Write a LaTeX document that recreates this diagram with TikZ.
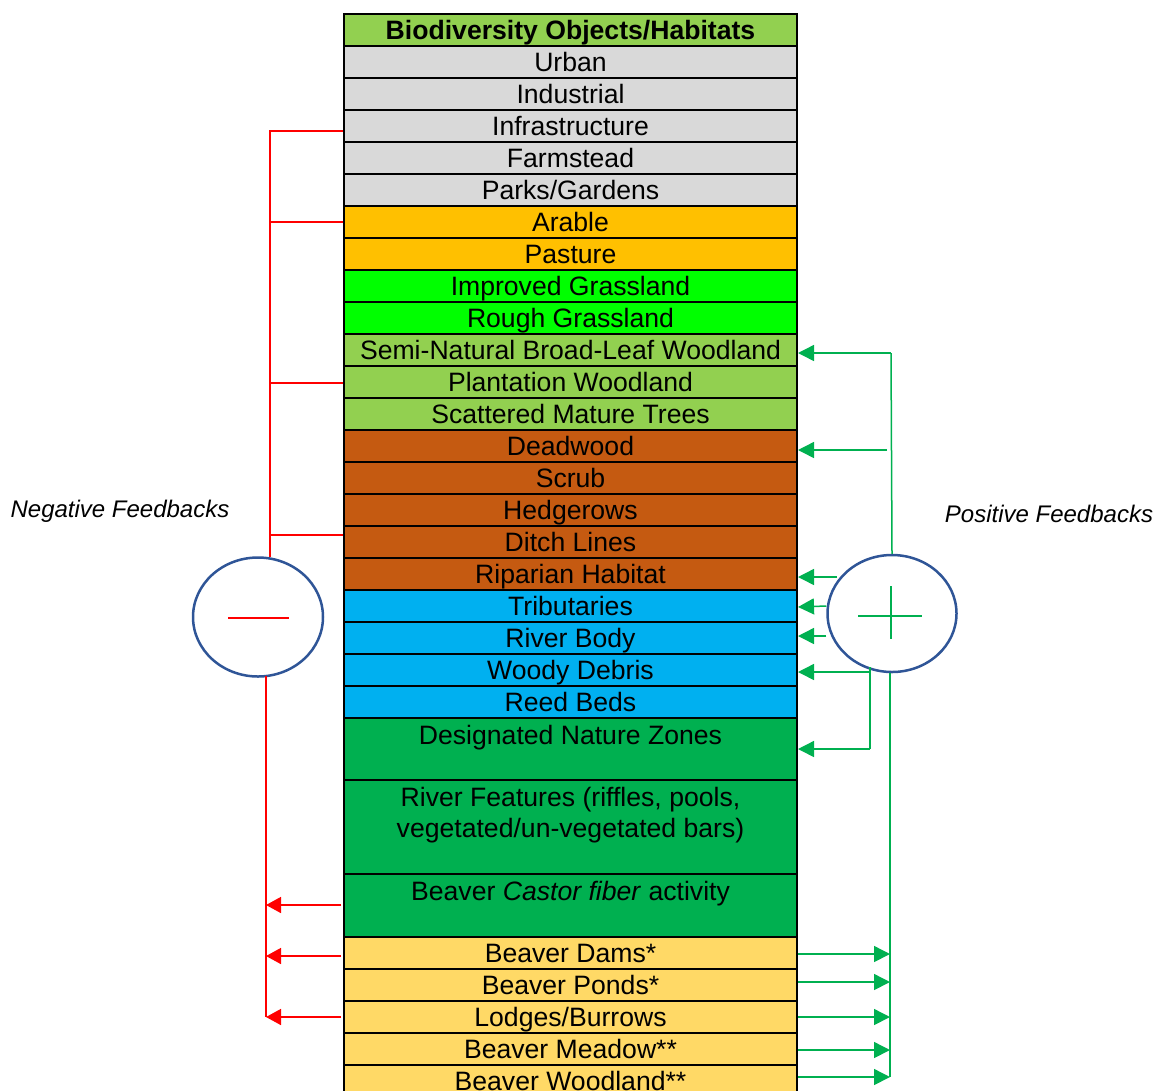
\documentclass[tikz,border=0pt]{standalone}
\usepackage{fontspec}
\setmainfont{Liberation Sans}
\usetikzlibrary{arrows.meta,shapes.geometric}
\definecolor{cHdr}{HTML}{92D050}
\definecolor{cGrey}{HTML}{D9D9D9}
\definecolor{cOrange}{HTML}{FFC000}
\definecolor{cLime}{HTML}{00FF00}
\definecolor{cLeaf}{HTML}{92D050}
\definecolor{cBrown}{HTML}{C55A11}
\definecolor{cBlue}{HTML}{00B0F0}
\definecolor{cDGreen}{HTML}{00B050}
\definecolor{cYellow}{HTML}{FFD966}
\definecolor{cArrowG}{HTML}{00B050}
\definecolor{cRed}{HTML}{FF0000}
\definecolor{cCircle}{HTML}{2F5597}
\newcommand{\rowfont}{\fontsize{26.6}{31}\selectfont}
\begin{document}
\begin{tikzpicture}[x=1pt,y=-1pt,
  row/.style={rectangle, draw=black, line width=2pt, minimum width=453pt,
    minimum height=32pt, inner sep=0pt, font=\rowfont, text height=21pt, text depth=2pt},
  rowtext/.style={inner sep=0pt, font=\rowfont, text height=21pt, text depth=2pt, align=center},
  negline/.style={draw=cRed, line width=1.5pt},
  negarrow/.style={negline, -{Triangle[length=15pt,width=16pt]}},
  posline/.style={draw=cArrowG, line width=1.5pt},
  posarrow/.style={posline, -{Triangle[length=16pt,width=16pt]}},
  fb/.style={draw=cCircle, line width=2.5pt, ellipse, inner sep=0pt, fill=white},
  side/.style={font=\itshape\fontsize{24}{28}\selectfont, inner sep=0pt}
]
\useasboundingbox (0,0) rectangle (1155,1090);
\clip (0,0) rectangle (1155,1090);

% table rows
\node[row, fill=cHdr, font=\rowfont\bfseries] (hdr) at (570.5,30) {Biodiversity Objects/Habitats};
\node[row, fill=cGrey] (urban) at (570.5,62) {Urban};
\node[row, fill=cGrey] (indus) at (570.5,94) {Industrial};
\node[row, fill=cGrey] (infra) at (570.5,126) {Infrastructure};
\node[row, fill=cGrey] (farm) at (570.5,158) {Farmstead};
\node[row, fill=cGrey] (parks) at (570.5,190) {Parks/Gardens};
\node[row, fill=cOrange] (arable) at (570.5,222) {Arable};
\node[row, fill=cOrange] (pasture) at (570.5,254) {Pasture};
\node[row, fill=cLime] (impg) at (570.5,286) {Improved Grassland};
\node[row, fill=cLime] (roughg) at (570.5,318) {Rough Grassland};
\node[row, fill=cLeaf] (semi) at (570.5,350) {Semi-Natural Broad-Leaf Woodland};
\node[row, fill=cLeaf] (plant) at (570.5,382) {Plantation Woodland};
\node[row, fill=cLeaf] (scat) at (570.5,414) {Scattered Mature Trees};
\node[row, fill=cBrown] (dead) at (570.5,446) {Deadwood};
\node[row, fill=cBrown] (scrub) at (570.5,478) {Scrub};
\node[row, fill=cBrown] (hedge) at (570.5,510) {Hedgerows};
\node[row, fill=cBrown] (ditch) at (570.5,542) {Ditch Lines};
\node[row, fill=cBrown] (ripar) at (570.5,574) {Riparian Habitat};
\node[row, fill=cBlue] (trib) at (570.5,606) {Tributaries};
\node[row, fill=cBlue] (rbody) at (570.5,638) {River Body};
\node[row, fill=cBlue] (woody) at (570.5,670) {Woody Debris};
\node[row, fill=cBlue] (reed) at (570.5,702) {Reed Beds};
\node[row, fill=cDGreen, minimum height=62pt] (dnz) at (570.5,749) {};
\node[rowtext] (dnzt) at (570.5,735) {Designated Nature Zones};
\node[row, fill=cDGreen, minimum height=94pt] (rfeat) at (570.5,827) {};
\node[rowtext] (rfeatt1) at (570.5,797) {River Features (riffles, pools,};
\node[rowtext] (rfeatt2) at (570.5,828) {vegetated/un-vegetated bars)};
\node[row, fill=cDGreen, minimum height=63pt] (bact) at (570.5,905.5) {};
\node[rowtext] (bactt) at (570.5,891) {Beaver \textit{Castor fiber} activity};
\node[row, fill=cYellow] (dams) at (570.5,953) {Beaver Dams*};
\node[row, fill=cYellow] (ponds) at (570.5,985) {Beaver Ponds*};
\node[row, fill=cYellow] (lodges) at (570.5,1017) {Lodges/Burrows};
\node[row, fill=cYellow] (meadow) at (570.5,1049) {Beaver Meadow**};
\node[row, fill=cYellow] (bwood) at (570.5,1081) {Beaver Woodland**};

% side labels
\node[side] (neglbl) at (120,511) {Negative Feedbacks};
\node[side] (poslbl) at (1049,514) {Positive Feedbacks};

% feedback circles
\node[fb, minimum width=130pt, minimum height=119pt] (minus) at (258,617) {};
\node[fb, minimum width=129pt, minimum height=117pt] (plus) at (892,613.5) {};
\draw[negline] (228,618) -- (289,618);
\draw[posline] (858,616) -- (922,616);
\draw[posline] (891,586) -- (891,639);

% negative feedbacks (upper)
\coordinate (nTop) at (270,131);
\coordinate (nEnd) at (270,557);
\draw[negline] ([yshift=-5pt]infra.west) -- (nTop) -- (nEnd);
\draw[negline] (arable.west) -- (arable.west -| nTop);
\draw[negline] ([yshift=-1pt]plant.west) -- ([yshift=-1pt]plant.west -| nTop);
\draw[negline] ([yshift=7pt]ditch.west) -- ([yshift=7pt]ditch.west -| nTop);

% negative feedbacks (lower)
\coordinate (nBot0) at (266,676);
\coordinate (nBot) at (266,1017);
\draw[negline] (nBot0) -- (nBot);
\draw[negarrow] ([xshift=-2pt,yshift=0.5pt]bact.west) -- ([yshift=0.5pt]bact.west -| nBot);
\draw[negarrow] ([xshift=-2pt,yshift=-3pt]dams.west) -- ([yshift=-3pt]dams.west -| nBot);
\draw[negarrow] ([xshift=-2pt]lodges.west) -- (lodges.west -| nBot);

% positive feedbacks (upper)
\coordinate (pTop) at (891,353);
\draw[posline] (plus.north) -- (pTop);
\draw[posarrow] (pTop) -- ([yshift=-3pt]semi.east);
\coordinate (pDead) at (887,450);
\draw[posarrow] (pDead) -- ([yshift=-4pt]dead.east);
\draw[posarrow] (837,577) -- ([yshift=-3pt]ripar.east);
\draw[posarrow] (plus.west |- trib.east) -- ([yshift=-1pt]trib.east);
\draw[posarrow] ([yshift=2pt]plus.west |- rbody.east) -- ([yshift=2pt]rbody.east);
\coordinate (pWood) at (870,672);
\coordinate (pDnz) at (870,749);
\draw[posarrow] (pWood) -- ([yshift=-2pt]woody.east);
\draw[posline] (870,667) -- (pDnz);
\draw[posarrow] (pDnz) -- (dnz.east);

% positive feedbacks (lower)
\coordinate (pBot) at (890,1077);
\draw[posline] (plus.south -| pBot) -- (pBot);
\draw[posarrow] ([yshift=-1pt]dams.east) -- ([yshift=-1pt]dams.east -| pBot);
\draw[posarrow] ([yshift=3pt]ponds.east) -- ([yshift=3pt]ponds.east -| pBot);
\draw[posarrow] (lodges.east) -- (lodges.east -| pBot);
\draw[posarrow] ([yshift=-1pt]meadow.east) -- ([yshift=-1pt]meadow.east -| pBot);
\draw[posarrow] ([yshift=4pt]bwood.east) -- ([yshift=4pt]bwood.east -| pBot);
\end{tikzpicture}
\end{document}
